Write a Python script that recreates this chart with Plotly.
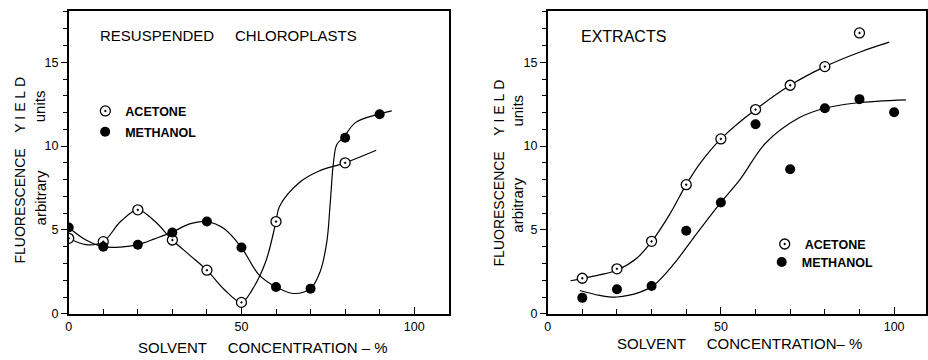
import plotly.graph_objects as go

W, H = 928, 360

# ---------------- data ----------------
# Left panel: resuspended chloroplasts
left_acetone_conc = [0, 10, 20, 30, 40, 50, 60, 80]
left_acetone = [4.5, 4.3, 6.2, 4.4, 2.6, 0.68, 5.5, 9.0]
left_methanol_conc = [0, 10, 20, 30, 40, 50, 60, 70, 80, 90]
left_methanol = [5.15, 4.0, 4.12, 4.85, 5.5, 3.95, 1.6, 1.5, 10.5, 11.9]

# hand-drawn fitted curves
left_acetone_curve_x = [0, 5, 10, 15, 20, 25, 30, 35, 40, 45, 50, 53, 57, 60, 61, 66.6, 72.3, 80, 89]
left_acetone_curve_y = [4.5, 4.12, 4.3, 5.5, 6.2, 5.5, 4.4, 3.5, 2.6, 1.45, 0.68, 1.4, 3.1, 5.5, 6.4, 7.8, 8.5, 9.0, 9.75]
left_methanol_curve_x = [0, 5, 10, 15, 20, 25, 30, 35, 40, 45, 50, 55, 60, 65, 70, 72.8, 74.7, 75.7, 76.6, 77.6, 79.5, 83, 89.6, 93.5]
left_methanol_curve_y = [5.15, 4.4, 4.0, 3.98, 4.12, 4.48, 4.87, 5.36, 5.5, 5.07, 3.95, 2.34, 1.6, 1.21, 1.5, 2.53, 4.29, 6.63, 8.97, 10.1, 10.5, 11.4, 11.9, 12.1]

# Right panel: extracts
right_acetone_conc = [10, 20, 30, 40, 50, 60, 70, 80, 90]
right_acetone = [2.12, 2.68, 4.32, 7.7, 10.43, 12.18, 13.63, 14.74, 16.75]
right_methanol_conc = [10, 20, 30, 40, 50, 60, 70, 80, 90, 100]
right_methanol = [0.95, 1.46, 1.66, 4.95, 6.64, 11.3, 8.62, 12.26, 12.8, 12.02]

right_acetone_curve_x = [6.6, 10, 15, 20, 25.8, 30, 35.3, 40, 44, 50, 60, 70, 80, 90, 98.6]
right_acetone_curve_y = [1.97, 2.1, 2.32, 2.6, 3.33, 4.3, 5.96, 7.7, 8.97, 10.43, 12.18, 13.63, 14.74, 15.6, 16.2]
right_methanol_curve_x = [9.3, 15, 20, 26.7, 30.5, 36.3, 42, 50, 55.5, 63, 72.7, 79.4, 89, 103.4]
right_methanol_curve_y = [1.39, 1.1, 1.0, 1.29, 1.68, 2.94, 4.5, 6.64, 8.0, 10.2, 11.7, 12.23, 12.57, 12.76]

y_tick_vals = [0, 5, 10, 15]
y_tick_text = ["0", "5", "10", "15"]
x_tick_vals = [0, 50, 100]
x_tick_text = ["0", "50", "100"]

FONT = "Liberation Sans, Arial, sans-serif"
NB = "\u00a0"

fig = go.Figure()

open_marker = dict(symbol="circle-dot", size=10, color="white", line=dict(color="black", width=1.3))
fill_marker = dict(symbol="circle", size=10, color="black", line=dict(color="black", width=0))
curve_line = dict(color="black", width=1.2, shape="spline", smoothing=1.0)

# left panel
fig.add_trace(go.Scatter(x=left_acetone_curve_x, y=left_acetone_curve_y, mode="lines", line=curve_line,
                         showlegend=False, xaxis="x", yaxis="y", hoverinfo="skip"))
fig.add_trace(go.Scatter(x=left_methanol_curve_x, y=left_methanol_curve_y, mode="lines", line=curve_line,
                         showlegend=False, xaxis="x", yaxis="y", hoverinfo="skip"))
fig.add_trace(go.Scatter(x=left_acetone_conc, y=left_acetone, mode="markers", marker=open_marker,
                         name="ACETONE", legend="legend", xaxis="x", yaxis="y"))
fig.add_trace(go.Scatter(x=left_methanol_conc, y=left_methanol, mode="markers", marker=fill_marker,
                         name="METHANOL", legend="legend2", xaxis="x", yaxis="y"))

# right panel
fig.add_trace(go.Scatter(x=right_acetone_curve_x, y=right_acetone_curve_y, mode="lines", line=curve_line,
                         showlegend=False, xaxis="x2", yaxis="y2", hoverinfo="skip"))
fig.add_trace(go.Scatter(x=right_methanol_curve_x, y=right_methanol_curve_y, mode="lines", line=curve_line,
                         showlegend=False, xaxis="x2", yaxis="y2", hoverinfo="skip"))
fig.add_trace(go.Scatter(x=right_acetone_conc, y=right_acetone, mode="markers", marker=open_marker,
                         name="ACETONE", legend="legend3", xaxis="x2", yaxis="y2"))
fig.add_trace(go.Scatter(x=right_methanol_conc, y=right_methanol, mode="markers", marker=fill_marker,
                         name="METHANOL", legend="legend4", xaxis="x2", yaxis="y2"))

ydom = [40 / H, 349 / H]
yr = [0, 18.07]
tickfont = dict(family=FONT, size=12.5, color="black")


def xmain(domain, rng, anchor):
    return dict(domain=domain, range=rng, anchor=anchor, showline=True, mirror=True, linecolor="black",
                linewidth=1.5, ticks="inside", ticklen=7, tickwidth=1.2, tickcolor="black",
                tickmode="array", tickvals=x_tick_vals, ticktext=x_tick_text, tickfont=tickfont,
                ticklabelstandoff=0,
                minor=dict(ticks="inside", ticklen=5, tickwidth=1.2, tickcolor="black", tick0=0, dtick=10),
                showgrid=False, zeroline=False, fixedrange=True)


def xtop(over, rng, anchor):
    return dict(overlaying=over, side="top", anchor=anchor, range=rng, showline=False,
                ticks="inside", ticklen=5, tickwidth=1.2, tickcolor="black", tickmode="linear",
                tick0=0, dtick=10, showticklabels=False, showgrid=False, zeroline=False, fixedrange=True)


def ymain(anchor):
    return dict(domain=ydom, range=yr, anchor=anchor, showline=True, mirror=True, linecolor="black",
                linewidth=1.5, ticks="outside", ticklen=6, tickwidth=1.2, tickcolor="black",
                tickmode="array", tickvals=y_tick_vals, ticktext=y_tick_text, tickfont=tickfont,
                minor=dict(ticks="outside", ticklen=4, tickwidth=1.2, tickcolor="black", tick0=0, dtick=1),
                showgrid=False, zeroline=False, fixedrange=True)


def yright(over, anchor):
    return dict(overlaying=over, side="right", anchor=anchor, range=yr, showline=False,
                ticks="inside", ticklen=5, tickwidth=1.2, tickcolor="black", tickmode="linear",
                tick0=0, dtick=1, showticklabels=False, showgrid=False, zeroline=False, fixedrange=True)


lx0, lx1 = 66, 447.7
rx0, rx1 = 547, 927

fig.update_layout(
    width=W, height=H, margin=dict(l=0, r=0, t=0, b=0),
    paper_bgcolor="white", plot_bgcolor="white",
    font=dict(family=FONT, color="black"),
    xaxis=xmain([lx0 / W, lx1 / W], [0, 110], "y"),
    yaxis=ymain("x"),
    xaxis2=xmain([rx0 / W, rx1 / W], [0, 109.2], "y2"),
    yaxis2=ymain("x2"),
    xaxis3=xtop("x", [0, 110], "y"),
    yaxis3=yright("y", "x"),
    xaxis4=xtop("x2", [0, 109.2], "y2"),
    yaxis4=yright("y2", "x2"),
)

leg_font = dict(family=FONT, size=12.5, color="black", weight="bold")


def leg(cx, cy):
    # plotly draws the legend symbol ~24 px right of the legend's left edge
    return dict(x=(cx - 24) / W, y=1 - (cy + 2.5) / H, xanchor="left", yanchor="middle",
                xref="paper", yref="paper", bgcolor="rgba(0,0,0,0)", borderwidth=0, font=leg_font)


fig.update_layout(legend=leg(106.7, 111), legend2=leg(106.5, 132.3),
                  legend3=leg(789, 246.7), legend4=leg(786, 265))


def ann(text, px, py, size=15, angle=0, xanchor="center"):
    fig.add_annotation(text=text, x=px / W, y=1 - py / H, xref="paper", yref="paper", showarrow=False,
                       textangle=angle, xanchor=xanchor, yanchor="middle", borderpad=0,
                       font=dict(family=FONT, size=size, color="black"))


# panel titles
ann("RESUSPENDED" + NB * 5 + "CHLOROPLASTS", 96, 36, 15, xanchor="left")
ann("EXTRACTS", 579, 37.5, 16, xanchor="left")

# y-axis titles
ann("FLUORESCENCE" + NB * 4 + "Y" + NB + "I" + NB + "E" + NB + "L" + NB + "D", 17.5, 173.5, 14, angle=-90)
ann("arbitrary", 37.5, 201, 15, angle=-90)
ann("units", 37.5, 108, 15, angle=-90)
ann("FLUORESCENCE" + NB * 4 + "Y" + NB + "I" + NB + "E" + NB + "L" + NB + "D", 498, 176, 14, angle=-90)
ann("arbitrary", 517, 209, 15, angle=-90)
ann("units", 517, 113, 15, angle=-90)

# x-axis titles
ann("SOLVENT" + NB * 5 + "CONCENTRATION" + NB + "–" + NB + "%", 261, 354, 15)
ann("SOLVENT" + NB * 5 + "CONCENTRATION–" + NB + "%", 740, 350, 15)

fig.write_html("out.html")
